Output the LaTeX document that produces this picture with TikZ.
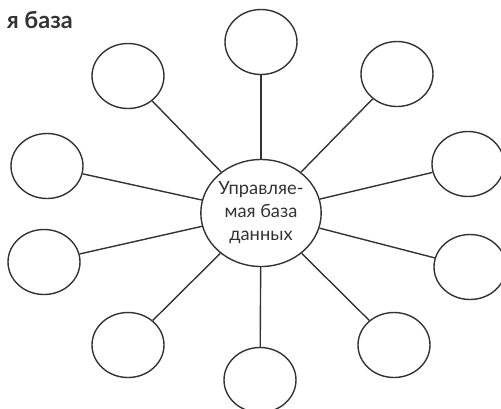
\documentclass[tikz,border=0pt]{standalone}
\usepackage{fontspec}
\setmainfont{Lato}
\usetikzlibrary{shapes.geometric}
\definecolor{ink}{HTML}{333333}
\tikzset{
  leaf/.style={draw=ink, line width=1.4pt, ellipse, minimum width=72pt, minimum height=65pt, inner sep=0pt},
  hub/.style={draw=ink, line width=1.4pt, ellipse, minimum width=116pt, minimum height=107pt, inner sep=0pt,
              align=center, text=ink, font=\fontsize{18.3}{23}\selectfont},
  spoke/.style={draw=ink, line width=1.4pt}
}
\begin{document}
\begin{tikzpicture}[x=1pt,y=-1pt]
  \useasboundingbox (0,0) rectangle (501,408);
  % heading fragment
  \node[anchor=base east, inner sep=0pt, text=ink, font=\bfseries\fontsize{23.5}{26}\selectfont] (title) at (73,28) {я база};
  % central topic
  \node[hub] (hub) at (261,213) {Управляе-\\мая база\\данных};
  % surrounding empty bubbles
  \node[leaf] (top) at (261,42) {};
  \node[leaf] (tr)  at (397,74) {};
  \node[leaf] (r1)  at (468,164) {};
  \node[leaf] (r2)  at (470,267) {};
  \node[leaf] (br)  at (394,345) {};
  \node[leaf] (bot) at (260,380) {};
  \node[leaf] (bl)  at (128,345) {};
  \node[leaf] (l2)  at (44,262) {};
  \node[leaf] (l1)  at (47,166) {};
  \node[leaf] (tl)  at (128,76) {};
  % spokes
  \foreach \n in {top,tr,r1,r2,br,bot,bl,l2,l1,tl}
    \draw[spoke] (hub) -- (\n);
\end{tikzpicture}
\end{document}
